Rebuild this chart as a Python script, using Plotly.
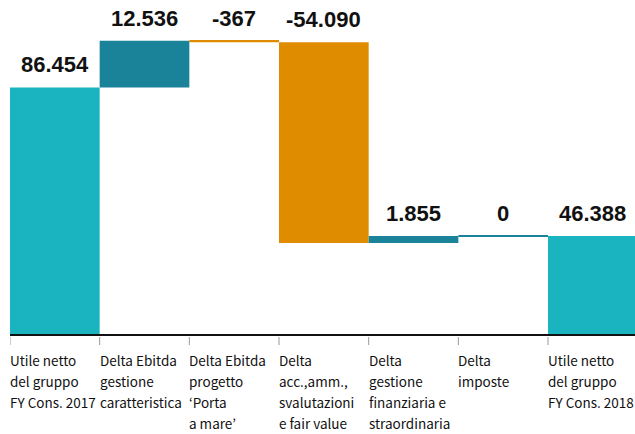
import plotly.graph_objects as go

# Bridge of group net profit, FY 2017 -> FY 2018 (EUR thousands)
categories = [
    "Utile netto<br>del gruppo<br>FY Cons. 2017",
    "Delta Ebitda<br>gestione<br>caratteristica",
    "Delta Ebitda<br>progetto<br>‘Porta<br>a mare’",
    "Delta<br>acc.,amm.,<br>svalutazioni<br>e fair value",
    "Delta<br>gestione<br>finanziaria e<br>straordinaria",
    "Delta<br>imposte",
    "Utile netto<br>del gruppo<br>FY Cons. 2018",
]
values = [86454, 12536, -367, -54090, 1855, 0, 46388]
measures = ["absolute", "relative", "relative", "relative", "relative", "relative", "total"]

TOTAL_COLOR = "#1AB4C1"
UP_COLOR = "#1A8299"
DOWN_COLOR = "#E08C00"

LABEL_FONT = "Noto Sans CJK KR, DejaVu Sans Condensed, sans-serif"
LINE_PITCH = 21  # px between category label lines

n = len(categories)
x_idx = list(range(n))


def fmt(v):
    return f"{v:,}".replace(",", ".")


# running levels for label placement
levels = []
running = 0
for v, m in zip(values, measures):
    if m == "absolute":
        start, end = 0, v
        running = v
    elif m == "total":
        start, end = 0, running
    else:
        start, end = running, running + v
        running = end
    levels.append((start, end))

fig = go.Figure(
    go.Waterfall(
        x=x_idx,
        y=values,
        measure=measures,
        width=[1.0] * n,
        connector=dict(visible=False),
        totals=dict(marker=dict(color=TOTAL_COLOR, line=dict(width=0))),
        increasing=dict(marker=dict(color=UP_COLOR, line=dict(width=0))),
        decreasing=dict(marker=dict(color=DOWN_COLOR, line=dict(width=0))),
        hoverinfo="skip",
    )
)

annotations = []
shapes = []
for i, (v, m, (s, e)) in enumerate(zip(values, measures, levels)):
    shown = e if m == "total" else v
    annotations.append(
        dict(
            x=i, y=max(s, e), xref="x", yref="y",
            text=fmt(shown), showarrow=False,
            xanchor="center", yanchor="bottom", yshift=8,
            font=dict(family="Liberation Sans, Arial, sans-serif", size=22,
                      color="#111111", weight="bold"),
        )
    )
    # category label, left-aligned at the category boundary, one line at a time
    for k, line in enumerate(categories[i].split("<br>")):
        annotations.append(
            dict(
                x=i - 0.5, y=0, xref="x", yref="paper",
                text=line, showarrow=False,
                xanchor="left", yanchor="top", align="left",
                yshift=-14 - k * LINE_PITCH, xshift=-2,
                font=dict(family=LABEL_FONT, size=13.5, color="#111111"),
            )
        )
    # tick mark at the category boundary
    shapes.append(
        dict(
            type="line", xref="x", yref="paper", ysizemode="pixel", yanchor=0,
            x0=i - 0.5, x1=i - 0.5, y0=-3, y1=-11,
            line=dict(color="#9a9a9a", width=1),
        )
    )
    # a zero change is shown as a flat line at the running level
    if m == "relative" and v == 0:
        shapes.append(
            dict(
                type="line", xref="x", yref="y",
                x0=i - 0.5, x1=i + 0.5, y0=e, y1=e,
                line=dict(color=UP_COLOR, width=2),
            )
        )

fig.update_layout(
    width=635,
    height=434,
    margin=dict(l=10, r=0, t=0, b=100),
    paper_bgcolor="white",
    plot_bgcolor="white",
    showlegend=False,
    bargap=0,
    annotations=annotations,
    shapes=shapes,
    xaxis=dict(
        range=[-0.5, 6.47],
        showgrid=False,
        zeroline=False,
        showticklabels=False,
        ticks="",
        showline=True,
        linecolor="#111111",
        linewidth=1.5,
        fixedrange=True,
    ),
    yaxis=dict(
        range=[20000, 110000],
        visible=False,
        fixedrange=True,
    ),
)

fig.write_html("out.html")
